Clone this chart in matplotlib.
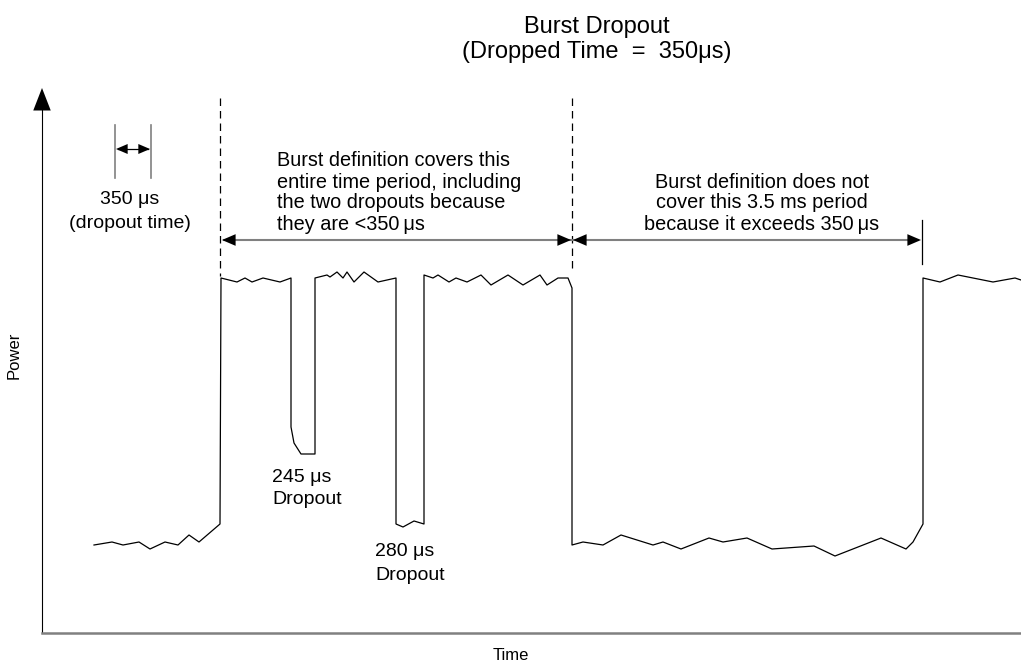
import matplotlib.pyplot as plt
from matplotlib import rcParams

# Helvetica look-alike
rcParams['font.family'] = 'Liberation Sans'

# Waveform (pixel space, y grows downwards)
time_px = [94, 112, 123, 139, 150, 165, 178, 189, 199, 220,
           221, 237, 245, 252, 263, 280, 291,
           291, 294, 301, 315,
           315, 327, 330, 337, 343, 347, 354, 364, 378, 396,
           396, 403, 414, 424,
           424, 433, 438, 449, 456, 467, 481, 491, 508, 523, 540, 547, 558, 568, 572,
           572, 583, 603, 621, 653, 663, 681, 709, 723, 747, 772, 814, 835, 881, 906, 913, 923,
           923, 940, 958, 993, 1015, 1021]
power_px = [545, 542, 545, 542, 549, 542, 545, 535, 542, 524,
            278, 282, 278, 282, 278, 282, 278,
            427, 443, 454, 454,
            278, 275, 277, 272, 278, 272, 282, 272, 282, 278,
            524, 527, 521, 524,
            275, 278, 275, 282, 278, 282, 275, 285, 275, 285, 275, 285, 278, 278, 288,
            545, 542, 545, 535, 545, 542, 549, 538, 542, 538, 549, 546, 556, 538, 549, 542, 524,
            278, 282, 275, 282, 278, 280]

title_lines = ['Burst Dropout', '(Dropped Time  =  350\u03bcs)']
covered_text = ['Burst definition covers this', 'entire time period, including',
                'the two dropouts because', 'they are <350\u2009\u03bcs']
not_covered_text = ['Burst definition does not', 'cover this 3.5 ms period',
                    'because it exceeds 350\u2009\u03bcs']

fig = plt.figure(figsize=(10.21, 6.68), dpi=100)
ax = fig.add_axes([0, 0, 1, 1])
ax.set_xlim(0, 1021)
ax.set_ylim(668, 0)
ax.axis('off')

gray = '#808080'


def head(x_tail, x_tip, y, size=14):
    ax.annotate('', xy=(x_tip, y), xytext=(x_tail, y),
                arrowprops=dict(arrowstyle='-|>,head_length=0.7,head_width=0.3',
                                color='black', lw=0, shrinkA=0, shrinkB=0,
                                mutation_scale=size))


# axes
ax.plot([42, 42], [633, 110], color='black', lw=0.8)
ax.annotate('', xy=(42, 88), xytext=(42, 118),
            arrowprops=dict(arrowstyle='-|>,head_length=0.9,head_width=0.35',
                            color='black', lw=0, shrinkA=0, shrinkB=0, mutation_scale=18))
ax.plot([42, 1021], [633, 633], color=gray, lw=1.8)
head(1010, 1030, 633, 18)

# waveform
ax.plot(time_px, power_px, color='black', lw=0.9)

# dashed markers
ax.plot([220, 220], [98, 276], color='black', lw=0.9, dashes=(6, 4))
ax.plot([572, 572], [98, 268], color='black', lw=0.9, dashes=(6, 4))
ax.plot([922, 922], [220, 264], color='black', lw=0.9)

# 350 us scale bracket
ax.plot([115, 115], [125, 178], color=gray, lw=1.2)
ax.plot([151, 151], [125, 178], color=gray, lw=1.2)
ax.plot([118, 148], [149, 149], color='black', lw=0.9)
head(130, 116, 149, 12)
head(136, 150, 149, 12)

# burst brackets
ax.plot([224, 918], [240, 240], color=gray, lw=1.5)
head(240, 222, 240, 14)
head(555, 571, 240, 14)
head(590, 573, 240, 14)
head(905, 921, 240, 14)

# text
ax.text(597, 27, title_lines[0], fontsize=17, ha='center', va='center')
ax.text(597, 52, title_lines[1], fontsize=17, ha='center', va='center')
ax.text(130, 200, '350 \u03bcs', fontsize=14, ha='center', va='center')
ax.text(130, 223, '(dropout time)', fontsize=14, ha='center', va='center')
for i, line in enumerate(covered_text):
    ax.text(277, 161 + 21 * i, line, fontsize=14.3, ha='left', va='center')
for i, line in enumerate(not_covered_text):
    ax.text(762, 182 + 21 * i, line, fontsize=14.3, ha='center', va='center')
ax.text(272, 477, '245 \u03bcs', fontsize=14, ha='left', va='center')
ax.text(272, 500, 'Dropout', fontsize=14, ha='left', va='center')
ax.text(375, 552, '280 \u03bcs', fontsize=14, ha='left', va='center')
ax.text(375, 575, 'Dropout', fontsize=14, ha='left', va='center')
ax.text(14, 355, 'Power', fontsize=12, ha='center', va='center', rotation=90)
ax.text(511, 656, 'Time', fontsize=12, ha='center', va='center')

fig.savefig('out.png', dpi=100)
